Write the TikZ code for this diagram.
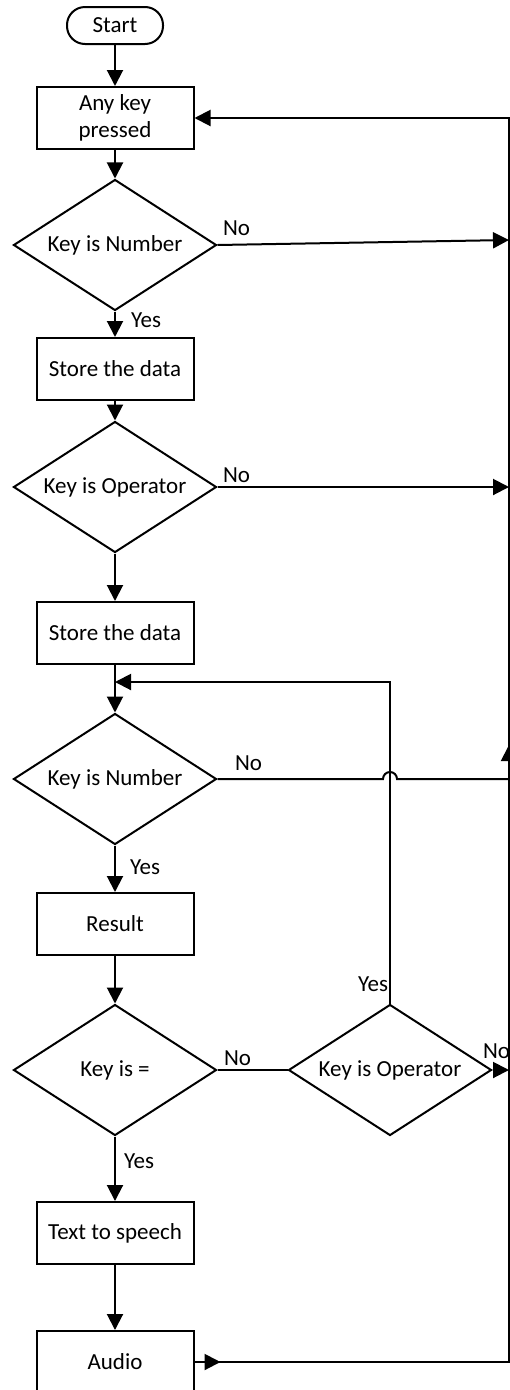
\documentclass[tikz,border=0pt]{standalone}
\usepackage{fontspec}
\setmainfont{Carlito}
\usetikzlibrary{shapes.geometric,arrows.meta,calc}
\begin{document}
\begin{tikzpicture}[x=1pt,y=-1pt, line width=2pt,
  every node/.style={font=\fontsize{23}{27}\selectfont},
  box/.style={draw, minimum width=157pt, minimum height=62pt, inner sep=0pt, align=center},
  dec/.style={draw, diamond, minimum width=203pt, minimum height=131pt, inner sep=0pt, aspect=1.55},
  term/.style={draw, rounded corners=18pt, minimum width=96pt, minimum height=37pt, inner sep=0pt},
  arr/.style={-{Triangle[length=16pt,width=16pt]}},
  lbl/.style={anchor=base west, inner sep=0pt}]
\clip (0,0) rectangle (510,1390);
\useasboundingbox (0,0) rectangle (510,1390);

\node[term] (start) at (115,25.5) {Start};
\node[box] (any) at (115,118) {Any key\\pressed};
\node[dec] (d1) at (115,245) {Key is Number};
\node[box] (s1) at (115,369) {Store the data};
\node[dec] (d2) at (115,487) {Key is Operator};
\node[box] (s2) at (115,633) {Store the data};
\node[dec] (d3) at (115,779) {Key is Number};
\node[box] (res) at (115,924) {Result};
\node[dec] (eq) at (115,1070) {Key is =};
\node[dec] (op) at (390,1070) {Key is Operator};
\node[box] (tts) at (115,1233) {Text to speech};
\node[box] (audio) at (115,1362) {Audio};

\coordinate (r1) at (509,240);
\coordinate (r2) at (509,487);
\coordinate (r3) at (509,779);
\coordinate (r3t) at (509,745);
\coordinate (r4) at (509,1070);
\coordinate (rb) at (509,1362);
\coordinate (rt) at (509,118);
\coordinate (j) at (115,682);

\draw[arr] (start) -- (any);
\draw[arr] (any) -- (d1);
\draw[arr] (d1) -- (s1);
\draw[arr] (d1.east) -- (r1);
\draw[arr] (s1) -- (d2);
\draw[arr] (d2.east) -- (r2);
\draw[arr] (d2) -- (s2);
\draw[arr] (s2) -- (d3);
\draw[arr] (op.north) |- (j);
\draw (d3.east) -- (383,779) arc[start angle=180, end angle=0, radius=7pt] -- (r3);
\draw[arr] (r3) -- (r3t);
\draw[arr] (d3) -- (res);
\draw[arr] (res) -- (eq);
\draw (eq.east) -- (op.west);
\draw[arr] (op.east) -- (r4);
\draw[arr] (eq) -- (tts);
\draw[arr] (tts) -- (audio);
\draw[arr] (audio.east) -- (rb) -- (rt) -- (any.east);
\draw[arr] (audio.east) -- ++(26,0);

\node[lbl] at (222,235) {No};
\node[lbl] at (222,482) {No};
\node[lbl] at (234,770) {No};
\node[lbl] at (223,1065) {No};
\node[lbl] at (482,1058) {No};
\node[lbl] at (357,991) {Yes};
\node[lbl] at (130,327) {Yes};
\node[lbl] at (129,874) {Yes};
\node[lbl] at (123,1168) {Yes};
\end{tikzpicture}
\end{document}
